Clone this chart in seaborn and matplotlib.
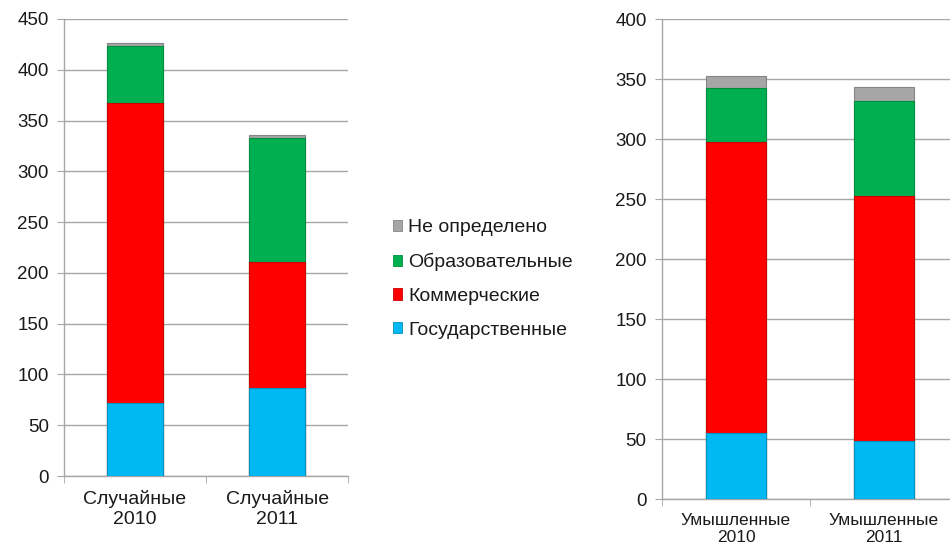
import numpy as np
import pandas as pd
import matplotlib
matplotlib.use("Agg")
import matplotlib.pyplot as plt
from matplotlib.patches import Patch
import seaborn as sns

# Категории инцидентов и число случаев по типам организаций
random_cats = ["Случайные\n2010", "Случайные\n2011"]
intent_cats = ["Умышленные\n2010", "Умышленные\n2011"]

series_names = ["Государственные", "Коммерческие", "Образовательные", "Не определено"]
series_colors = ["#00B8F2", "#FF0000", "#00B050", "#A6A6A6"]

random_gov = [72, 87]
random_com = [295, 124]
random_edu = [56, 122]
random_und = [3, 3]

intent_gov = [55, 48]
intent_com = [243, 205]
intent_edu = [45, 79]
intent_und = [10, 12]

random_ticks = [0, 50, 100, 150, 200, 250, 300, 350, 400, 450]
intent_ticks = [0, 50, 100, 150, 200, 250, 300, 350, 400]

sns.set_style("white")
plt.rcParams["font.family"] = ["Liberation Sans", "DejaVu Sans"]

GRID = "#A6A6A6"
TEXT = "#1A1A1A"


def darker(c, f=0.8):
    r, g, b = matplotlib.colors.to_rgb(c)
    return (r * f, g * f, b * f)


def stacked(ax, cats, layers, ticks, label_size, width, spacing):
    df = pd.DataFrame({"cat": cats})
    cum = np.zeros(len(cats))
    tops = []
    for vals in layers:
        cum = cum + np.asarray(vals, dtype=float)
        tops.append(cum.copy())
    # draw cumulative totals from the top layer down so lower layers cover them
    for top, col in reversed(list(zip(tops, series_colors))):
        df["v"] = top
        sns.barplot(data=df, x="cat", y="v", color=col, width=width,
                    saturation=1, edgecolor=darker(col), linewidth=0.8,
                    ax=ax, zorder=3)
    ax.set_xlim(-0.5, 1.5)
    ax.set_ylim(ticks[0], ticks[-1])
    ax.set_yticks(ticks)
    ax.set_xticks(range(len(cats)), cats, linespacing=spacing)
    ax.set_xlabel("")
    ax.set_ylabel("")
    ax.grid(axis="y", color=GRID, linewidth=1.0, zorder=0)
    ax.set_axisbelow(True)
    for s in ("top", "right"):
        ax.spines[s].set_visible(False)
    for s in ("left", "bottom"):
        ax.spines[s].set_color(GRID)
        ax.spines[s].set_linewidth(1.0)
    ax.tick_params(axis="y", direction="out", length=5, color=GRID,
                   labelsize=13.5, labelcolor=TEXT, pad=6, left=True)
    ax.tick_params(axis="x", which="major", length=0, labelsize=label_size,
                   labelcolor=TEXT, pad=10)
    ax.set_xticks([-0.5, 0.5, 1.5], minor=True)
    ax.tick_params(axis="x", which="minor", direction="out", length=5,
                   color=GRID, bottom=True)


fig = plt.figure(figsize=(9.5, 5.5), dpi=100)
ax1 = fig.add_axes([0.0674, 0.1345, 0.2990, 0.8310])
ax2 = fig.add_axes([0.6968, 0.0927, 0.3116, 0.8720])

stacked(ax1, random_cats, [random_gov, random_com, random_edu, random_und],
        random_ticks, 14, 0.39, 1.25)
stacked(ax2, intent_cats, [intent_gov, intent_com, intent_edu, intent_und],
        intent_ticks, 12.5, 0.40, 1.2)

handles = [Patch(facecolor=c, edgecolor=darker(c), linewidth=0.6, label=n)
           for n, c in zip(series_names, series_colors)]
fig.legend(handles=handles[::-1], loc="center left",
           bbox_to_anchor=(0.405, 0.493), frameon=False, fontsize=14,
           handlelength=0.5, handleheight=0.5, handletextpad=0.3,
           labelspacing=0.86, labelcolor=TEXT, borderaxespad=0)

fig.savefig("out.png", dpi=100)
